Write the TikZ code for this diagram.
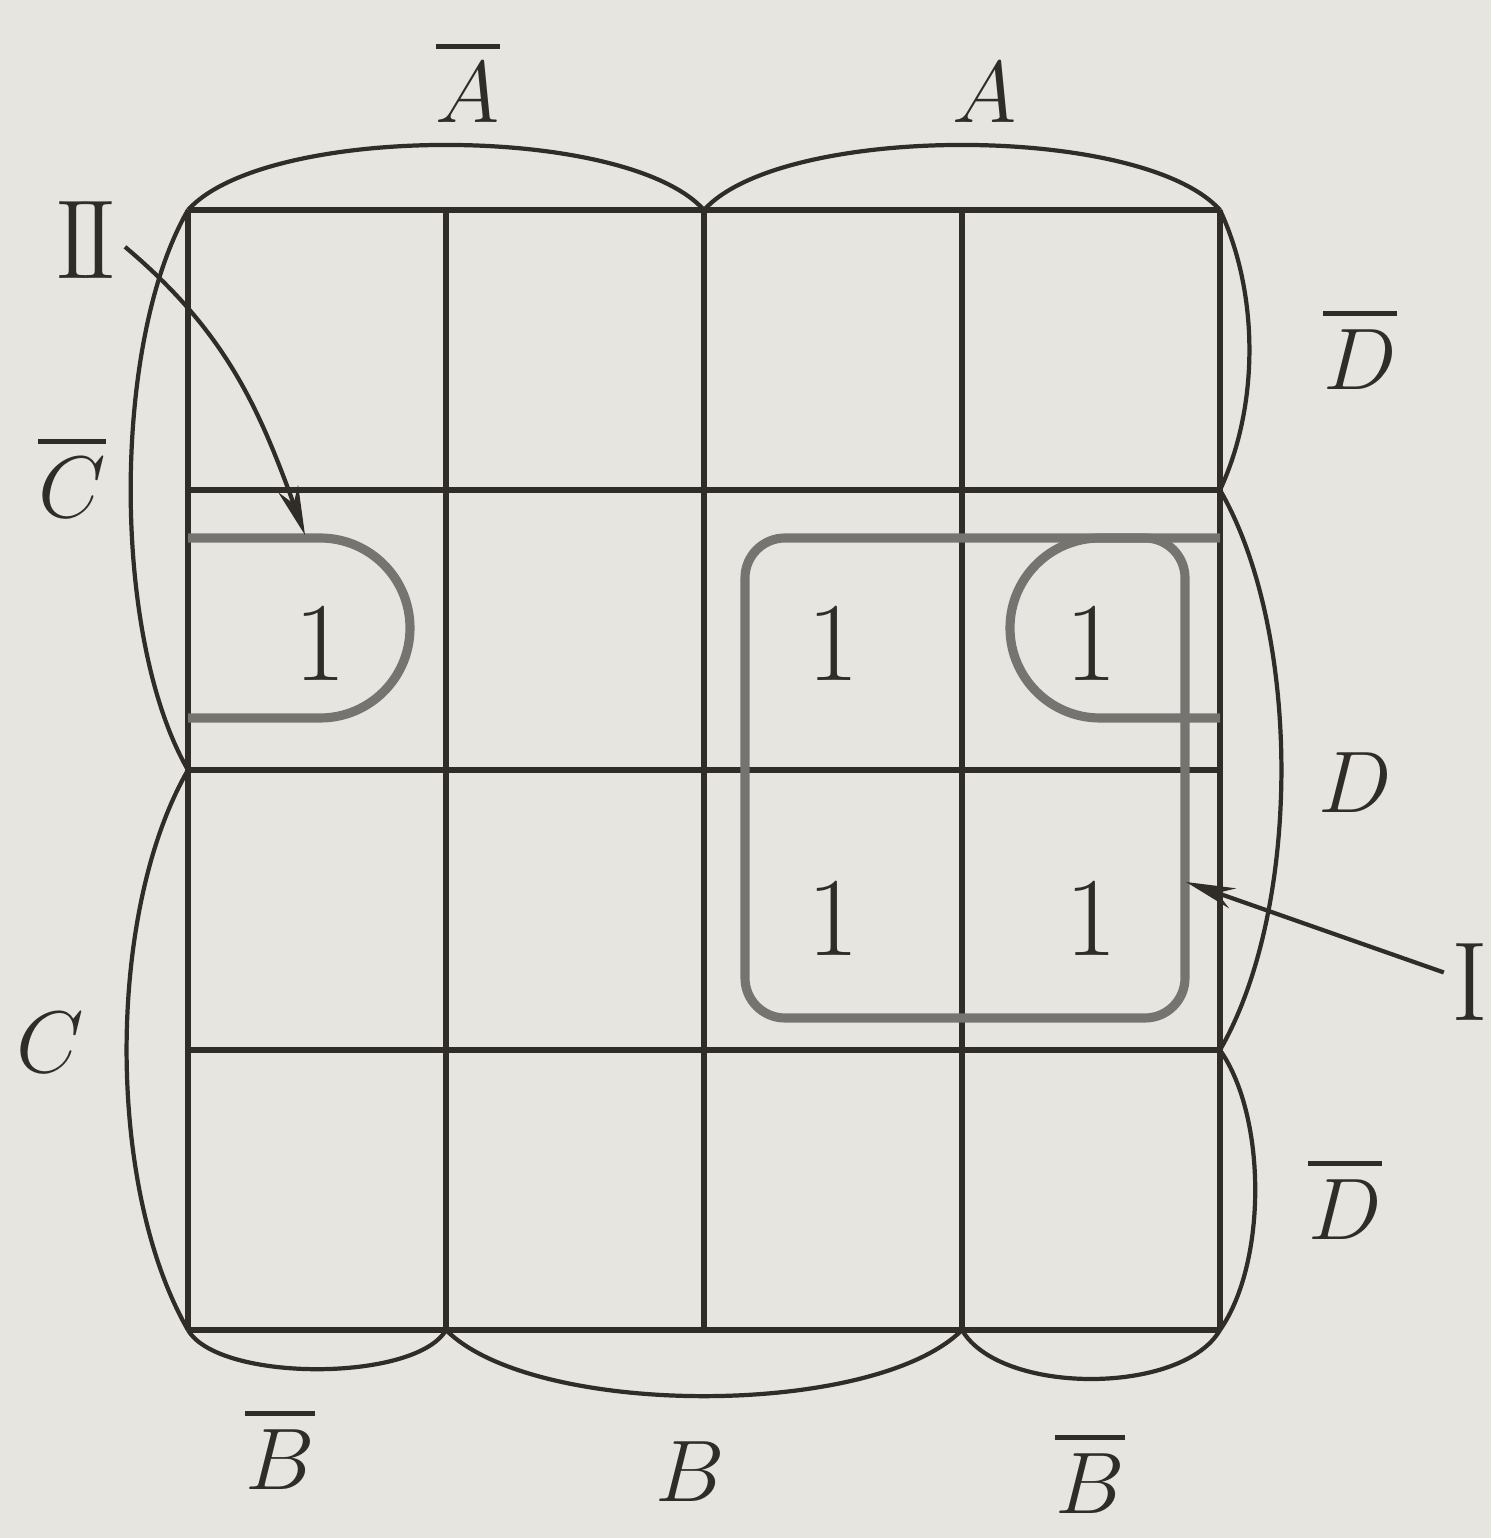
\documentclass[tikz,border=0pt]{standalone}
\usepackage{amsmath,amssymb}
\usetikzlibrary{arrows.meta}
\definecolor{paper}{RGB}{230,229,224}
\definecolor{ink}{RGB}{48,44,40}
\definecolor{loopgray}{RGB}{118,116,112}

\begin{document}
\begin{tikzpicture}[
  grid/.style={line width=1.5pt, draw=ink},
  brace/.style={line width=1.2pt, draw=ink},
  loop/.style={line width=2.6pt, draw=loopgray},
  var/.style={font=\fontsize{33}{40}\selectfont, text=ink, inner sep=2pt},
  one/.style={font=\fontsize{32}{38}\selectfont, text=ink},
  pointer/.style={line width=1.2pt, draw=ink, -{Stealth[length=14pt,width=6pt]}},
]
\fill[paper] (0,0) rectangle (14.91,15.38);
\useasboundingbox (0,0) rectangle (14.91,15.38);

% the map: 4 x 4 cells
\foreach \i in {0,...,4} {
  \draw[grid] (1.88+2.58*\i,2.08) -- ++(0,11.2);
  \draw[grid] (1.88,2.08+2.8*\i) -- ++(10.32,0);
}

% brackets of the variables
\draw[brace] (1.88,13.28) to[out=48,in=132,looseness=0.58] (7.04,13.28);
\draw[brace] (7.04,13.28) to[out=48,in=132,looseness=0.58] (12.2,13.28);
\draw[brace] (12.2,13.28) to[out=-65,in=65,looseness=0.85] (12.2,10.48);
\draw[brace] (12.2,10.48) to[out=-60,in=60,looseness=0.75] (12.2,4.88);
\draw[brace] (12.2,4.88) to[out=-55,in=55,looseness=0.75] (12.2,2.08);
\draw[brace] (1.88,13.28) to[out=-120,in=120,looseness=0.7] (1.88,7.68);
\draw[brace] (1.88,7.68) to[out=-120,in=120,looseness=0.75] (1.88,2.08);
\draw[brace] (1.88,2.08) to[out=-60,in=-120,looseness=0.6] (4.46,2.08);
\draw[brace] (4.46,2.08) to[out=-45,in=-135,looseness=0.62] (9.62,2.08);
\draw[brace] (9.62,2.08) to[out=-60,in=-120,looseness=0.75] (12.2,2.08);

\node[var] (Abar) at (4.68,14.57) {$\overline{A}$};
\node[var] (A) at (9.85,14.45) {$A$};
\node[var] (Dbar1) at (13.6,11.9) {$\overline{D}$};
\node[var] (D) at (13.55,7.55) {$D$};
\node[var] (Dbar2) at (13.45,3.4) {$\overline{D}$};
\node[var] (Cbar) at (0.72,10.62) {$\overline{C}$};
\node[var] (C) at (0.5,4.95) {$C$};
\node[var] (Bbar1) at (2.8,0.9) {$\overline{B}$};
\node[var] (B) at (6.9,0.66) {$B$};
\node[var] (Bbar2) at (10.9,0.66) {$\overline{B}$};

% the ones
\node[one] (c10) at (3.2,8.95) {1};
\node[one] (c12) at (8.33,8.95) {1};
\node[one] (c13) at (10.91,8.95) {1};
\node[one] (c22) at (8.33,6.2) {1};
\node[one] (c23) at (10.91,6.2) {1};

% loops
\draw[loop] (1.88,10.0) -- (3.2,10.0) arc[start angle=90,end angle=-90,radius=0.9] -- (1.88,8.2);
\draw[loop] (12.2,10.0) -- (11.0,10.0) arc[start angle=90,end angle=270,radius=0.9] -- (12.2,8.2);
\draw[loop, rounded corners=0.4cm] (7.45,5.2) rectangle (11.85,10.0);

% pointers
\node[var, font=\fontsize{32}{38}\selectfont] (II) at (0.86,12.98) {I\kern-.1em I};
\node[var, font=\fontsize{32}{38}\selectfont] (I) at (14.7,5.56) {I};
\coordinate (tII) at (3.05,10.03);
\coordinate (tI) at (11.86,6.56);
\draw[pointer] (II.-10) to[out=-40,in=110] (tII);
\draw[pointer] (I.160) -- (tI);
\end{tikzpicture}
\end{document}
